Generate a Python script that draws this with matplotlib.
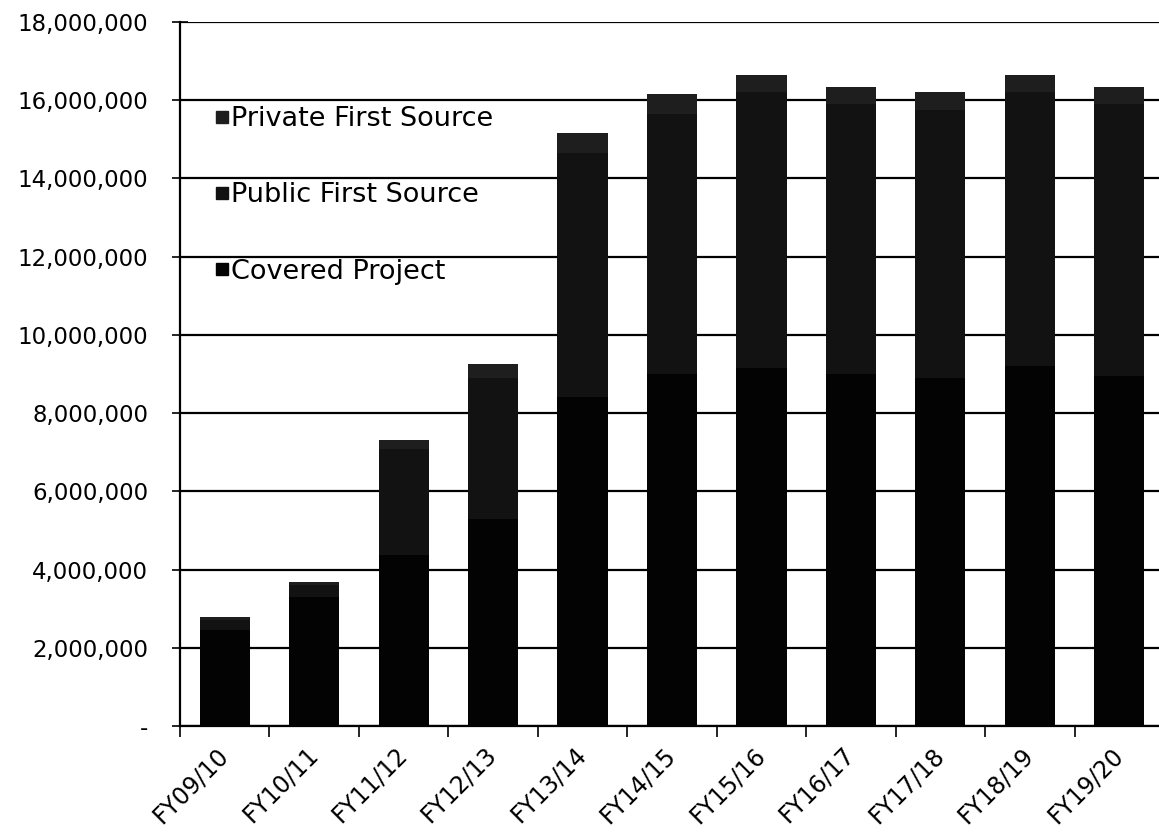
import numpy as np
import matplotlib.pyplot as plt
from matplotlib.lines import Line2D
from matplotlib.ticker import FuncFormatter, FixedLocator

plt.rcParams['font.family'] = ['DejaVu Sans']

years = ['FY09/10', 'FY10/11', 'FY11/12', 'FY12/13', 'FY13/14', 'FY14/15',
         'FY15/16', 'FY16/17', 'FY17/18', 'FY18/19', 'FY19/20']
covered = [2450000, 3300000, 4370000, 5300000, 8400000, 9000000,
           9150000, 9000000, 8900000, 9200000, 8950000]
public_fs = [250000, 300000, 2700000, 3600000, 6250000, 6650000,
             7050000, 6900000, 6850000, 7000000, 6950000]
private_fs = [90000, 80000, 240000, 360000, 520000, 500000,
              450000, 450000, 450000, 450000, 450000]

c_cov = '#030303'
c_pub = '#121212'
c_pri = '#1e1e1e'

fig = plt.figure(figsize=(11.59, 8.4), dpi=100)
ax = fig.add_axes([180 / 1159, 114 / 840, 984 / 1159, 704 / 840])

x = np.arange(len(years))
w = 0.56
cov = np.array(covered)
pub = np.array(public_fs)
pri = np.array(private_fs)
ax.bar(x, cov, w, color=c_cov, zorder=3)
ax.bar(x, pub, w, bottom=cov, color=c_pub, zorder=3)
ax.bar(x, pri, w, bottom=cov + pub, color=c_pri, zorder=3)

ax.set_xlim(-0.5, len(years) - 0.5)
ax.set_ylim(0, 18000000)
ax.set_yticks(np.arange(0, 18000001, 2000000))
ax.yaxis.set_major_formatter(FuncFormatter(lambda v, p: '-' if v == 0 else f'{v:,.0f}'))
ax.yaxis.grid(True, color='black', linewidth=1.6, zorder=1)
ax.tick_params(axis='y', direction='inout', length=12, width=1.2, labelsize=16.5, pad=17)

ax.set_xticks(x)
ax.set_xticklabels(years, rotation=45, ha='right', va='center', rotation_mode='anchor', fontsize=17)
ax.tick_params(axis='x', which='major', length=0, pad=18)
ax.xaxis.set_minor_locator(FixedLocator(np.arange(-0.5, len(years), 1.0)))
ax.tick_params(axis='x', which='minor', direction='out', length=8, width=1.2)

for s in ['top', 'right']:
    ax.spines[s].set_visible(False)
ax.spines['left'].set_linewidth(1.6)
ax.spines['bottom'].set_linewidth(1.6)

handles = [Line2D([], [], marker='s', linestyle='none', markersize=8, color=c_pri),
           Line2D([], [], marker='s', linestyle='none', markersize=8, color=c_pub),
           Line2D([], [], marker='s', linestyle='none', markersize=8, color=c_cov)]
ax.legend(handles, ['Private First Source', 'Public First Source', 'Covered Project'],
          loc='upper left', bbox_to_anchor=(192 / 1159, 1 - 82 / 840), bbox_transform=fig.transFigure,
          frameon=False, fontsize=19.5, labelspacing=1.85, handlelength=0.4, handletextpad=0.15)

fig.savefig('out.png', dpi=100)
